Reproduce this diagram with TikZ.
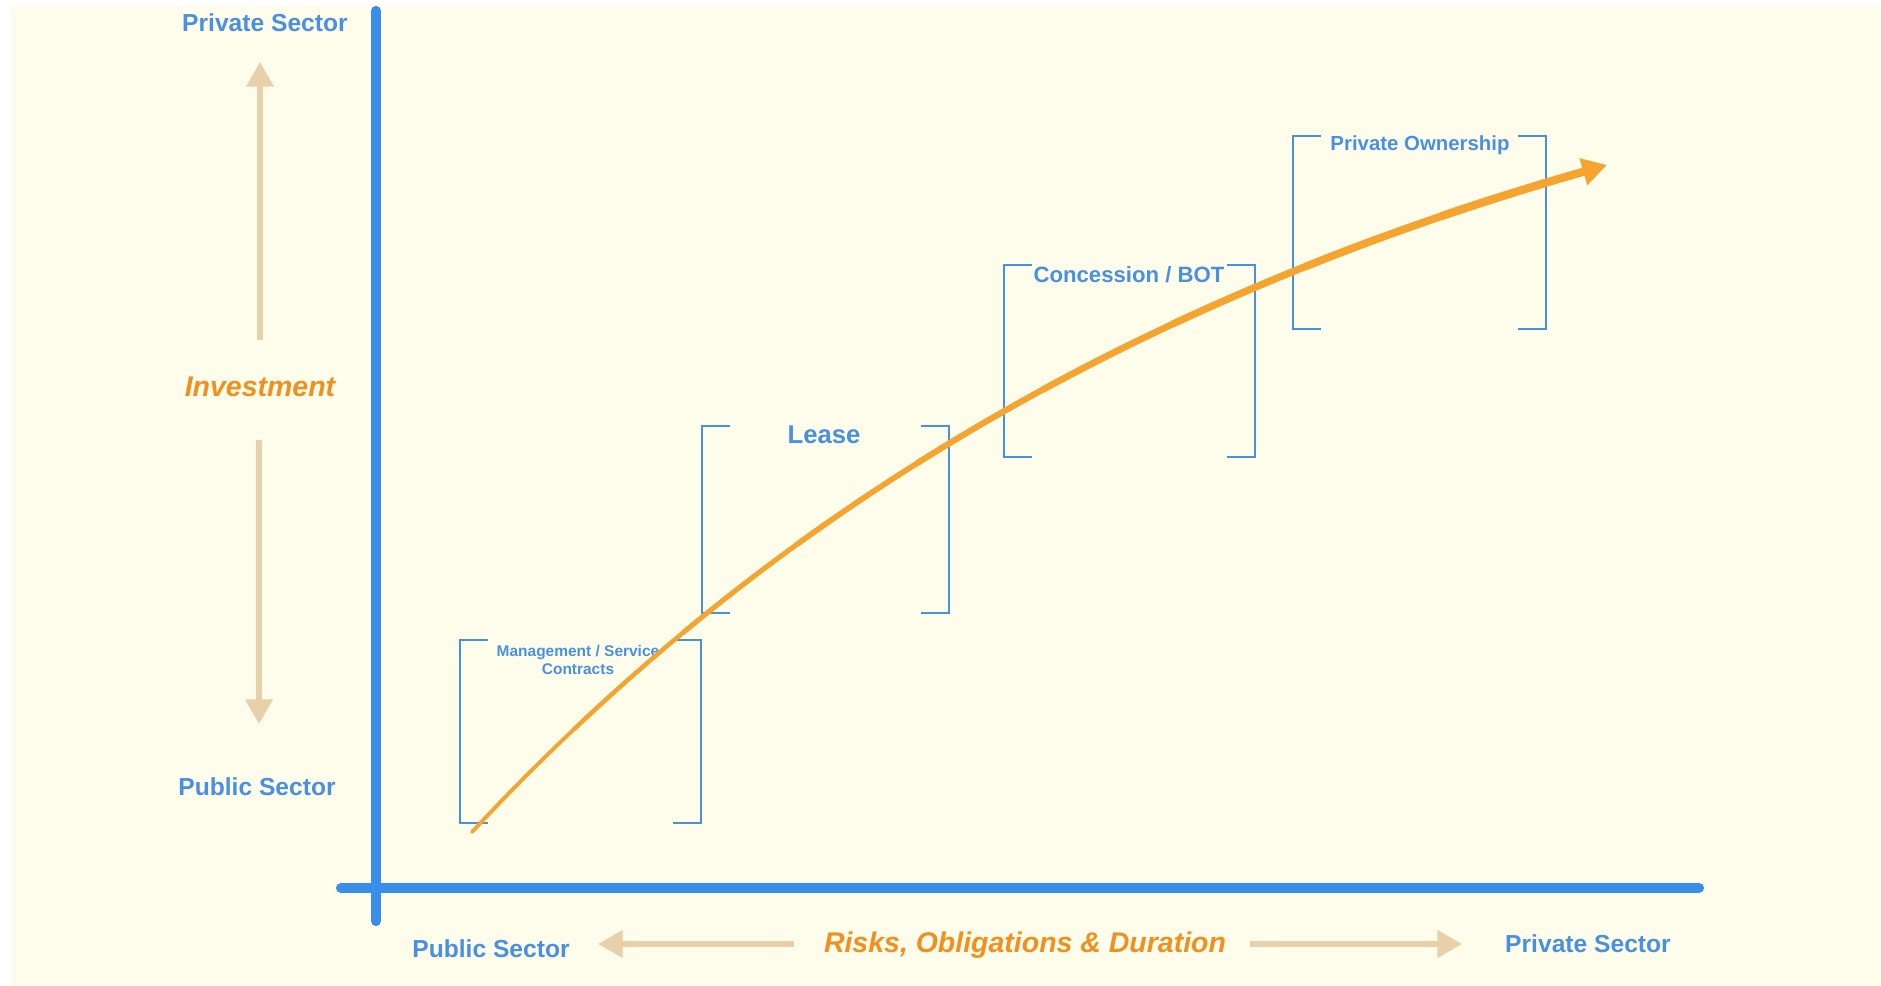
\documentclass[tikz,border=0pt]{standalone}
\usepackage{fontspec}
\setmainfont{Liberation Sans}
\usetikzlibrary{arrows.meta}

\definecolor{paper}{HTML}{FEFCEA}
\definecolor{axisblue}{HTML}{3A8EEB}
\definecolor{stageblue}{HTML}{4A90E2}
\definecolor{curveorange}{HTML}{F5A52F}
\definecolor{themeorange}{HTML}{F2901F}
\definecolor{hinttan}{HTML}{E8D0AA}

\begin{document}
\begin{tikzpicture}[
  x=0.01cm, y=-0.01cm,
  axis/.style={draw=axisblue, line width=2.9pt, line cap=round},
  hint/.style={draw=hinttan, line width=1.7pt, -{Triangle[length=7pt, width=7.5pt]}},
  bracket/.style={draw=stageblue, line width=0.75pt},
  curve/.style={draw=curveorange},
  sector/.style={font=\bfseries\fontsize{7}{8}\selectfont, text=stageblue,
                 anchor=base, inner sep=0pt},
  theme/.style={font=\bfseries\itshape\fontsize{8.1}{9}\selectfont, text=themeorange,
                anchor=base, inner sep=0pt},
  stage/.style={text=stageblue, anchor=base, inner sep=0pt, align=center}
]
\fill[white] (0,0) rectangle (1881,986);
\useasboundingbox (0,0) rectangle (1881,986);
\fill[paper] (11,6) rectangle (1881,986);

% axes
\coordinate (ytop) at (376,11);
\coordinate (ybot) at (376,921);
\coordinate (xleft) at (341,888);
\coordinate (xright) at (1699,888);
\draw[axis] (ytop) -- (ybot);
\draw[axis] (xleft) -- (xright);

% axis labels
\node[sector] (privTop) at (265,32) {Private Sector};
\node[theme] (invest) at (260,397) {Investment};
\node[sector] (pubLeft) at (257,796) {Public Sector};
\node[sector] (pubBot) at (491,958) {Public Sector};
\node[theme] (risks) at (1025,953) {Risks, Obligations \& Duration};
\node[sector] (privBot) at (1588,953) {Private Sector};

\coordinate (upFrom) at (260,340);   \coordinate (upTo) at (260,62);
\coordinate (downFrom) at (259,440); \coordinate (downTo) at (259,724);
\coordinate (leftFrom) at (794,944); \coordinate (leftTo) at (598,944);
\coordinate (rightFrom) at (1250,944); \coordinate (rightTo) at (1462,944);
\draw[hint] (upFrom) -- (upTo);
\draw[hint] (downFrom) -- (downTo);
\draw[hint] (leftFrom) -- (leftTo);
\draw[hint] (rightFrom) -- (rightTo);

% stage brackets: left x / right x / top / bottom
\foreach \l/\r/\t/\b in {460/701/640/823, 702/949/426/613,
                         1004/1255/265/457, 1293/1546/136/329} {
  \draw[bracket] (\l+28,\t) -- (\l,\t) -- (\l,\b) -- (\l+28,\b);
  \draw[bracket] (\r-28,\t) -- (\r,\t) -- (\r,\b) -- (\r-28,\b);
}

% base of a two-line node sits on its last line
\node[stage, font=\bfseries\fontsize{4.4}{5.3}\selectfont] (mgmt) at (578,675)
  {Management / Service\\Contracts};
\node[stage, font=\bfseries\fontsize{7.3}{8}\selectfont] (lease) at (824,444) {Lease};
\node[stage, font=\bfseries\fontsize{6.3}{7}\selectfont] (bot) at (1129,283) {Concession / BOT};
\node[stage, font=\bfseries\fontsize{5.8}{7}\selectfont] (owner) at (1420,151) {Private Ownership};

% rising curve, thickening towards the tip
\coordinate (c0) at (472,832);
\coordinate (c1) at (1607,165);
\draw[curve, line width=1.1pt, line cap=round, shorten >=6pt]
  (c0) .. controls (799,481) and (1184,286) .. (c1);
\foreach \i in {1,...,7} {
  \pgfmathsetmacro\w{1.1+0.15*\i}
  \pgfmathsetmacro\s{1.45*\i}
  \draw[curve, line width=\w pt, dash pattern=on 30cm off \s cm, dash phase=30cm,
        shorten >=6pt]
    (c0) .. controls (799,481) and (1184,286) .. (c1);
}
\draw[curve, line width=2.3pt, dash pattern=on 30cm off 11.6cm, dash phase=30cm,
      -{Triangle[length=7pt, width=7.5pt]}]
  (c0) .. controls (799,481) and (1184,286) .. (c1);
\end{tikzpicture}
\end{document}
